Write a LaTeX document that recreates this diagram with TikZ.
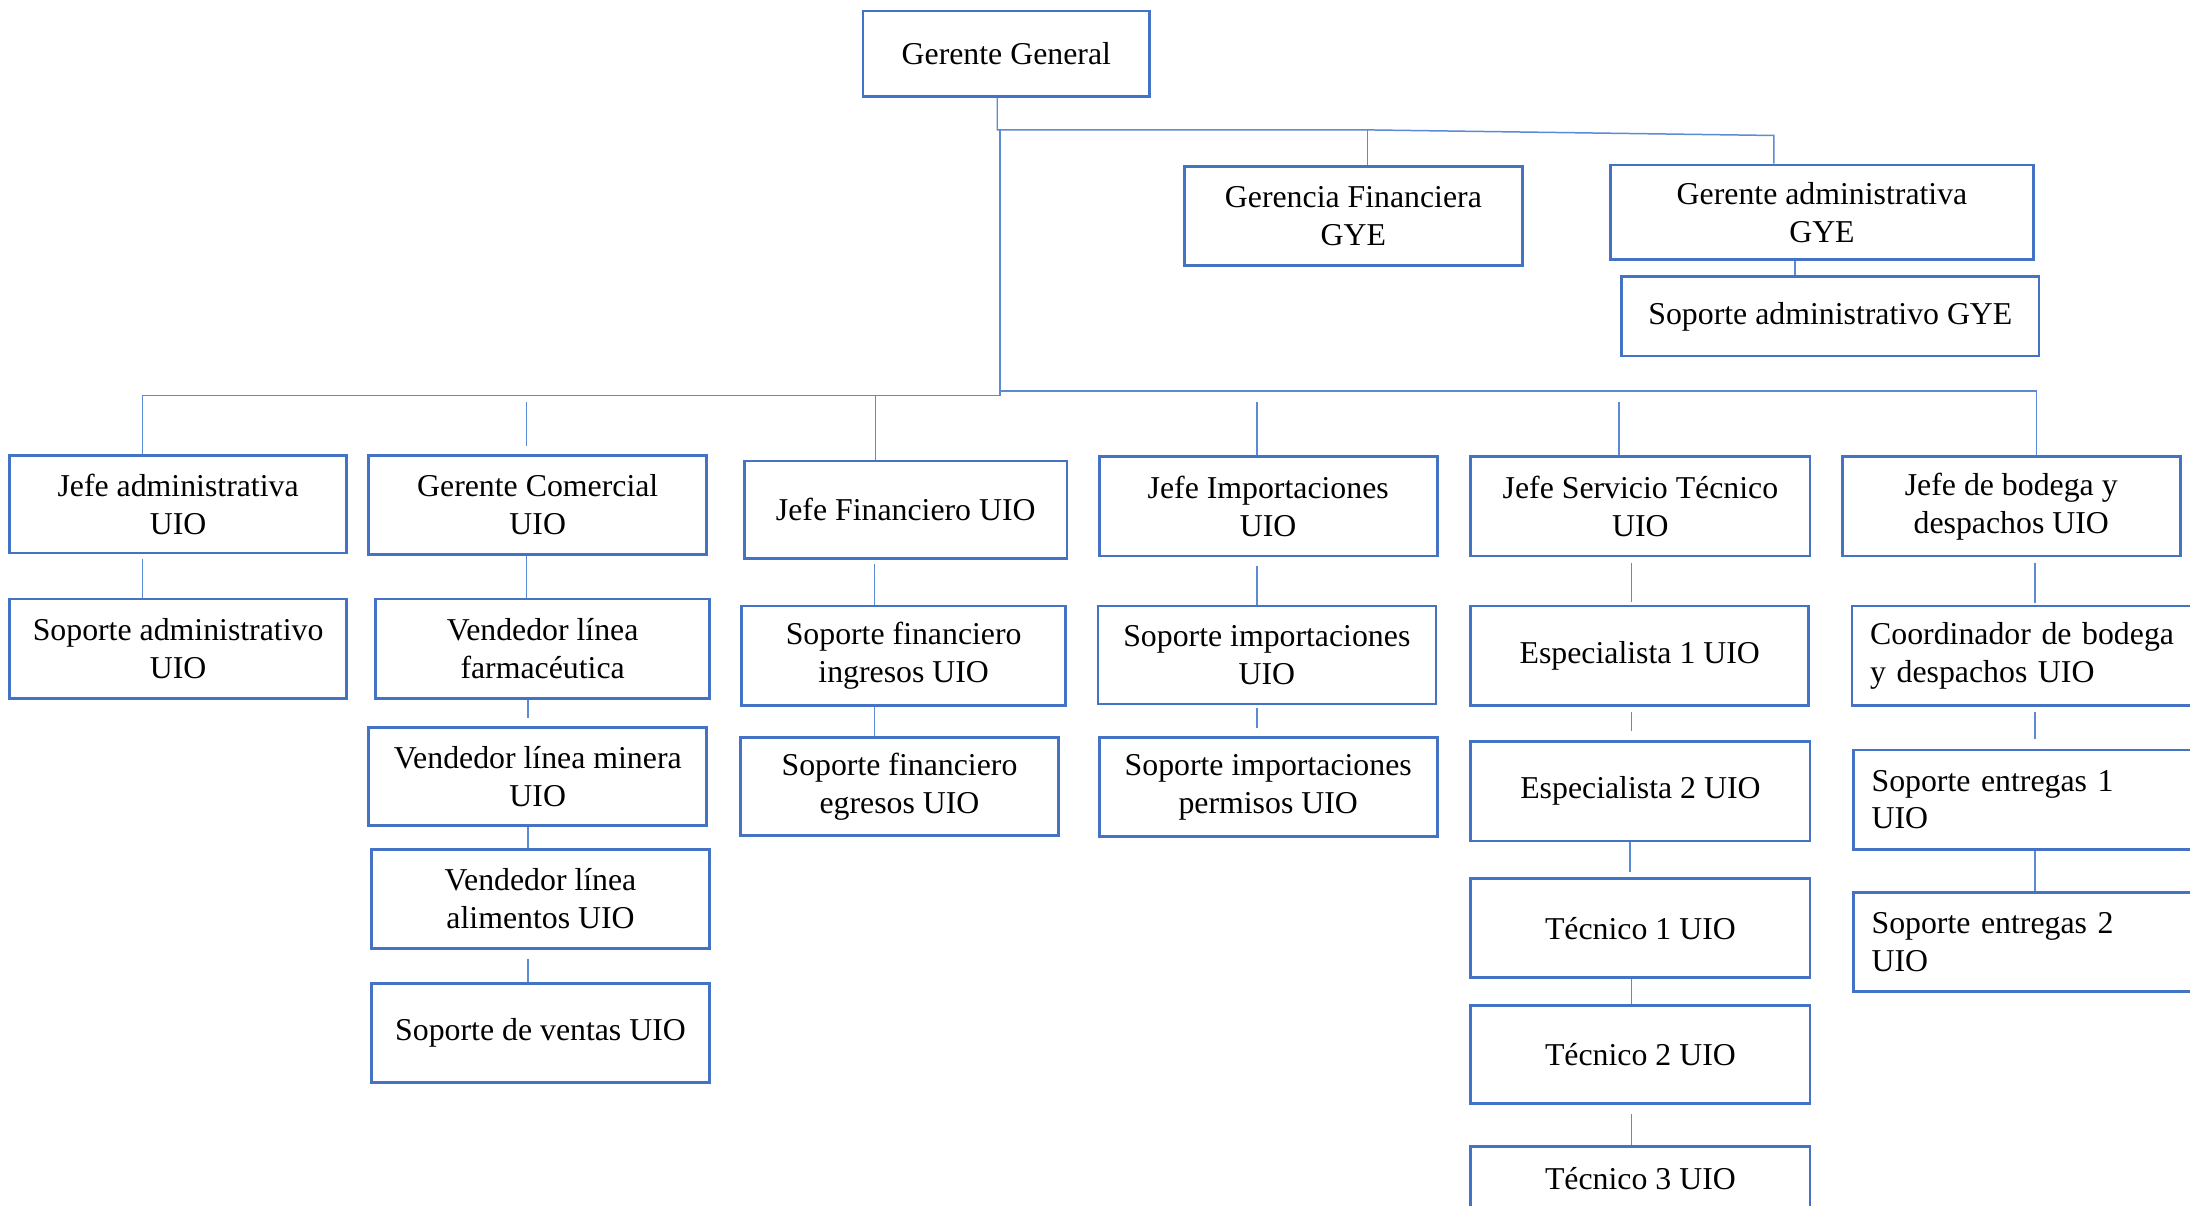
\documentclass[tikz,border=0pt]{standalone}
\usepackage{fontspec}
\setmainfont{Liberation Serif}
\definecolor{boxblue}{RGB}{68,114,196}
\definecolor{lineblue}{RGB}{91,139,214}
\tikzset{
  orgnode/.style={draw=boxblue, line width=1.3bp, inner sep=0pt, align=center,
    font=\fontsize{16}{19}\selectfont, text=black},
  link/.style={draw=lineblue, line width=0.75bp}
}
% box from its corners (x1,y1)-(x2,y2), text centred
\newcommand\orgbox[6]{%
  \pgfmathsetmacro\obW{(#4-#2)*0.7}%
  \pgfmathsetmacro\obH{(#5-#3)*0.7}%
  \node[orgnode, minimum width=\obW bp, minimum height=\obH bp] (#1)
    at ({(#2+#4)/2},{(#3+#5)/2}) {#6};}
% box from its corners, text flush left
\newcommand\orgboxl[6]{%
  \pgfmathsetmacro\obT{(#4-#2-26)*0.7}%
  \pgfmathsetmacro\obH{(#5-#3)*0.7}%
  \node[orgnode, align=left, text width=\obT bp, inner xsep=9.1bp,
    minimum height=\obH bp] (#1)
    at ({(#2+#4)/2},{(#3+#5)/2}) {#6};}
% vertical link at abscissa #3 from #1 down to #2, with end gaps #4 and #5
\newcommand\vlink[5]{%
  \coordinate (vx) at (#3,0);
  \draw[link, shorten <=#4*0.7bp, shorten >=#5*0.7bp] (#1.south -| vx) -- (#2.north -| vx);}
\begin{document}
\begin{tikzpicture}[x=0.7bp, y=-0.7bp]
\useasboundingbox (0,0) rectangle (1568,863);

% top level
\orgbox{gg}{618}{8}{823}{69}{Gerente General}
\orgbox{gf}{848}{119}{1090}{190}{Gerencia Financiera\\GYE}
\orgbox{ga}{1153}{118}{1456}{186}{Gerente administrativa\\GYE}
\orgbox{sg}{1161}{198}{1460}{255}{Soporte administrativo GYE}

% heads in Quito
\orgbox{ja}{7}{326}{248}{396}{Jefe administrativa\\UIO}
\orgbox{gc}{264}{326}{506}{397}{Gerente Comercial\\UIO}
\orgbox{jf}{533}{330}{764}{400}{Jefe Financiero UIO}
\orgbox{ji}{787}{327}{1029}{398}{Jefe Importaciones\\UIO}
\orgbox{js}{1053}{327}{1296}{398}{Jefe Servicio Técnico\\UIO}
\orgbox{jb}{1319}{327}{1561}{398}{Jefe de bodega y\\despachos UIO}

% staff
\orgbox{sa}{7}{429}{248}{500}{Soporte administrativo\\UIO}
\orgbox{v1}{269}{429}{508}{500}{Vendedor línea\\farmacéutica}
\orgbox{v2}{264}{521}{506}{591}{Vendedor línea minera\\UIO}
\orgbox{v3}{266}{608}{508}{679}{Vendedor línea\\alimentos UIO}
\orgbox{sv}{266}{704}{508}{775}{Soporte de ventas UIO}
\orgbox{fi}{531}{434}{763}{505}{Soporte financiero\\ingresos UIO}
\orgbox{fe}{530}{528}{758}{598}{Soporte financiero\\egresos UIO}
\orgbox{si}{786}{434}{1028}{504}{Soporte importaciones\\UIO}
\orgbox{sp}{787}{528}{1029}{599}{Soporte importaciones\\permisos UIO}
\orgbox{e1}{1053}{434}{1295}{505}{Especialista 1 UIO}
\orgbox{e2}{1053}{531}{1296}{602}{Especialista 2 UIO}
\orgbox{t1}{1053}{629}{1296}{700}{Técnico 1 UIO}
\orgbox{t2}{1053}{720}{1296}{790}{Técnico 2 UIO}
\orgbox{t3}{1053}{821}{1296}{867}{Técnico 3 UIO}
\orgboxl{cb}{1326}{434}{1600}{505}{Coordinador de bodega\\y despachos UIO}
\orgboxl{s1}{1327}{537}{1600}{608}{Soporte entregas 1\\UIO}
\orgboxl{s2}{1327}{639}{1600}{710}{Soporte entregas 2\\UIO}

% upper branch towards Guayaquil
\coordinate (b1) at (714,93);
\coordinate (b2) at (979,93);
\coordinate (b3) at (1270,97);
\draw[link] (gg.south -| b1) -- (b1) -- (b2) -- (b3) -- (ga.north -| b3);
\draw[link] (b2) -- (gf.north -| b2);
\vlink{ga}{sg}{1285}{0}{0}

% trunk and lower buses
\coordinate (tk) at (716,93);
\coordinate (tkL) at (716,283);
\coordinate (tkR) at (716,280);
\coordinate (lb) at (102,283);
\coordinate (rb) at (1458,280);
\draw[link] (tk) -- (tkL) -- (lb) -- (ja.north -| lb);
\draw[link] (tkR) -- (rb) -- (jb.north -| rb);
\coordinate (d2) at (377,288);
\coordinate (d3) at (627,283);
\coordinate (d4) at (900,288);
\coordinate (d5) at (1159,288);
\draw[link, shorten >=4.2bp] (d2) -- (gc.north -| d2);
\draw[link] (d3) -- (jf.north -| d3);
\draw[link] (d4) -- (ji.north -| d4);
\draw[link] (d5) -- (js.north -| d5);

% chains below each head
\vlink{ja}{sa}{102}{3}{0}
\vlink{gc}{v1}{377}{0}{0}
\vlink{v1}{v2}{378}{0}{6}
\vlink{v2}{v3}{378}{0}{0}
\vlink{v3}{sv}{378}{7}{0}
\vlink{jf}{fi}{626}{3}{0}
\vlink{fi}{fe}{626}{0}{0}
\vlink{ji}{si}{900}{6}{0}
\vlink{si}{sp}{900}{2}{6}
\vlink{js}{e1}{1168}{4}{2}
\vlink{e1}{e2}{1168}{4}{7}
\vlink{e2}{t1}{1167}{0}{4}
\vlink{t1}{t2}{1168}{0}{0}
\vlink{t2}{t3}{1168}{7}{0}
\vlink{jb}{cb}{1457}{4}{1}
\vlink{cb}{s1}{1457}{4}{7}
\vlink{s1}{s2}{1457}{0}{0}
\end{tikzpicture}
\end{document}
